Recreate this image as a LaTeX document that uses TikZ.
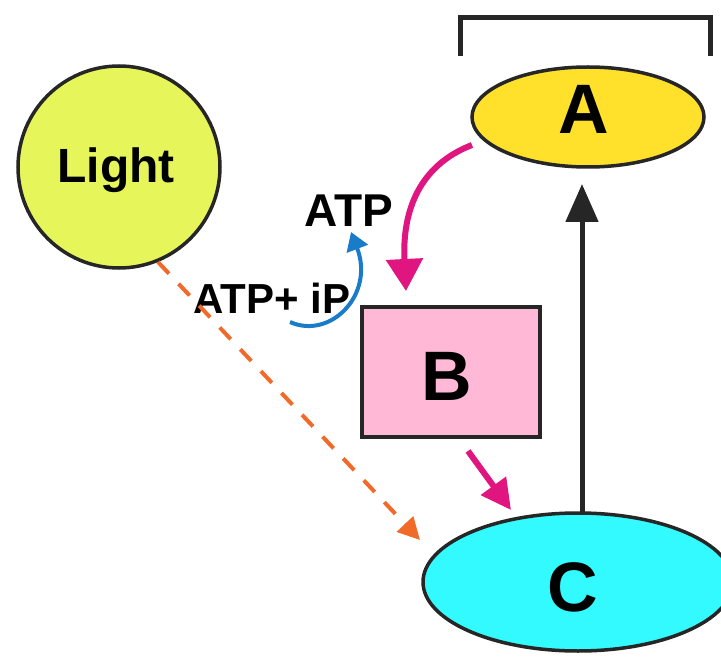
\documentclass[tikz,border=0pt]{standalone}
\usepackage{fontspec}
\setmainfont{Liberation Sans}
\usetikzlibrary{arrows.meta,shapes.geometric}
\definecolor{lightc}{HTML}{E6F55A}
\definecolor{ac}{HTML}{FFE12B}
\definecolor{bc}{HTML}{FFB8D6}
\definecolor{cc}{HTML}{33FAFF}
\definecolor{mag}{HTML}{E0157F}
\definecolor{orc}{HTML}{F26A2A}
\definecolor{blc}{HTML}{1A7CC8}
\begin{document}
\begin{tikzpicture}[x=1pt,y=-1pt,
  shp/.style={draw=black!85,line width=3.5pt,inner sep=0pt},
  big/.style={font=\fontsize{70}{74}\selectfont\bfseries,inner sep=0pt},
  lbl/.style={font=\fontsize{42}{46}\selectfont\bfseries,inner sep=0pt}]
\useasboundingbox (0,0) rectangle (721,658);
\node[shp,circle,fill=lightc,minimum size=202pt] (light) at (119,167) {};
\node[font=\fontsize{48}{52}\selectfont\bfseries] at (116,170) {Light};
\node[shp,ellipse,fill=ac,minimum width=232pt,minimum height=100pt] (a) at (588,117) {};
\node[big] at (584,109) {A};
\node[shp,rectangle,fill=bc,minimum width=178pt,minimum height=130pt] (b) at (451,372) {};
\node[big] at (447,376) {B};
\node[shp,ellipse,fill=cc,minimum width=310pt,minimum height=138pt] (c) at (578,582) {};
\node[big] at (573,587) {C};
\node[font=\fontsize{46}{50}\selectfont\bfseries,inner sep=0pt] (atp) at (349,211) {ATP};
\node[lbl] (atpi) at (272,298) {ATP+ iP};
% bracket
\draw[line width=5pt,black!85] (460,56) -- (460,18) -- (710,18) -- (710,56);
% arrows
\coordinate (ctop) at (582,512);
\coordinate (abot) at (582,184);
\draw[line width=5pt,black!85,-{Triangle[length=38pt,width=32pt]}] (ctop) -- (abot);
\coordinate (m1s) at (472,145);
\coordinate (m1e) at (406,291);
\draw[line width=6pt,mag,-{Triangle[length=32pt,width=36pt]}] (m1s) .. controls (420,165) and (402,210) .. (m1e);
\coordinate (m2s) at (468,451);
\coordinate (m2e) at (511,510);
\draw[line width=6pt,mag,-{Triangle[length=30pt,width=30pt]}] (m2s) -- (m2e);
\coordinate (os) at (158,262);
\coordinate (oe) at (420,540);
\draw[line width=4pt,orc,dash pattern=on 16pt off 14pt,-{Triangle[length=22pt,width=22pt]}] (os) -- (oe);
\coordinate (bs) at (290,322);
\coordinate (be) at (351,232);
\draw[line width=4pt,blc,-{Triangle[length=18pt,width=22pt]}] (bs) .. controls (330,340) and (375,295) .. (be);
\end{tikzpicture}
\end{document}
